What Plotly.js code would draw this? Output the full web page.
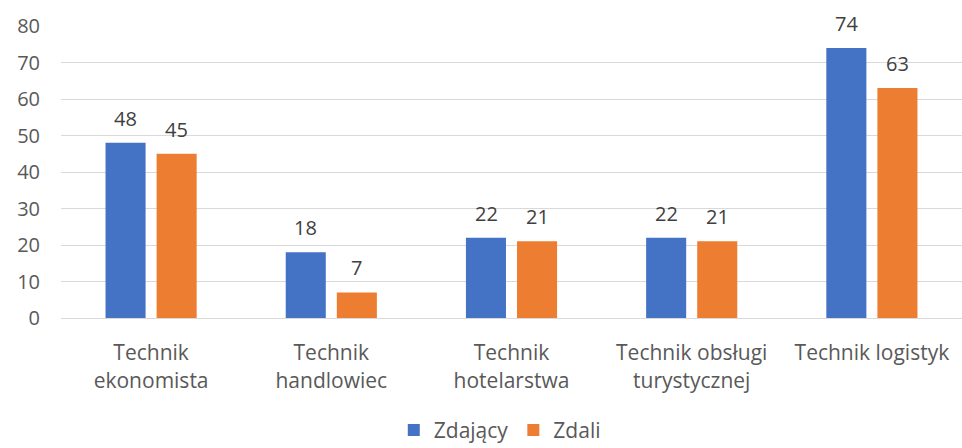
<!DOCTYPE html>
<html>
<head>
<meta charset="utf-8">
<script src="https://cdn.plot.ly/plotly-3.0.1.min.js"></script>
<style>html,body{margin:0;padding:0;background:#fff;}#chart{width:962px;height:448px;}</style>
</head>
<body>
<div id="chart"></div>
<script>
var categories = ["Technik<br>ekonomista", "Technik<br>handlowiec", "Technik<br>hotelarstwa", "Technik obsługi<br>turystycznej", "Technik logistyk"];
var zdajacy = [48, 18, 22, 22, 74];
var zdali = [45, 7, 21, 21, 63];
var seriesNames = ["Zdający", "Zdali"];
var yTicks = [0, 10, 20, 30, 40, 50, 60, 70, 80];

var font = "'Open Sans', 'Noto Sans', sans-serif";
var fs = 21;
var traces = [
  {type: "bar", name: seriesNames[0], x: categories, y: zdajacy, marker: {color: "#4472C4"}, hoverinfo: "none"},
  {type: "bar", name: seriesNames[1], x: categories, y: zdali, marker: {color: "#ED7D31"}, hoverinfo: "none"}
];
var annotations = [];
[zdajacy, zdali].forEach(function (vals, s) {
  vals.forEach(function (v, i) {
    annotations.push({xref: "x", yref: "y", x: categories[i], y: v, text: String(v),
      showarrow: false, xanchor: "center", yanchor: "bottom",
      xshift: s === 0 ? -25.5 : 25.5, yshift: 9,
      font: {family: font, size: 20, color: "#404040"}});
  });
});
var layout = {
  width: 962, height: 448,
  margin: {l: 61, r: 0, t: 26, b: 130, autoexpand: false},
  paper_bgcolor: "#fff", plot_bgcolor: "#fff",
  font: {family: font, size: fs, color: "#595959"},
  barmode: "group", bargap: 0.433, bargroupgap: 0.216,
  showlegend: true,
  legend: {orientation: "h", x: 0.487, xanchor: "center", xref: "paper", yref: "paper", y: -0.385, yanchor: "middle",
           font: {size: fs, color: "#595959"}, itemwidth: 30, traceorder: "normal"},
  annotations: annotations,
  xaxis: {showline: true, linecolor: "#D9D9D9", linewidth: 1, ticks: "", ticklabelstandoff: 16, tickangle: 0,
          tickfont: {size: fs, color: "#595959"}, showgrid: false, automargin: false},
  yaxis: {range: [0, 80], tickvals: yTicks, showgrid: true, gridcolor: "#D9D9D9", gridwidth: 1,
          zeroline: false, showline: false, ticks: "", ticklabelstandoff: 20, automargin: false,
          tickfont: {size: 20, color: "#595959"}}
};
Plotly.newPlot("chart", traces, layout, {displayModeBar: false, staticPlot: true});
</script>
</body>
</html>
